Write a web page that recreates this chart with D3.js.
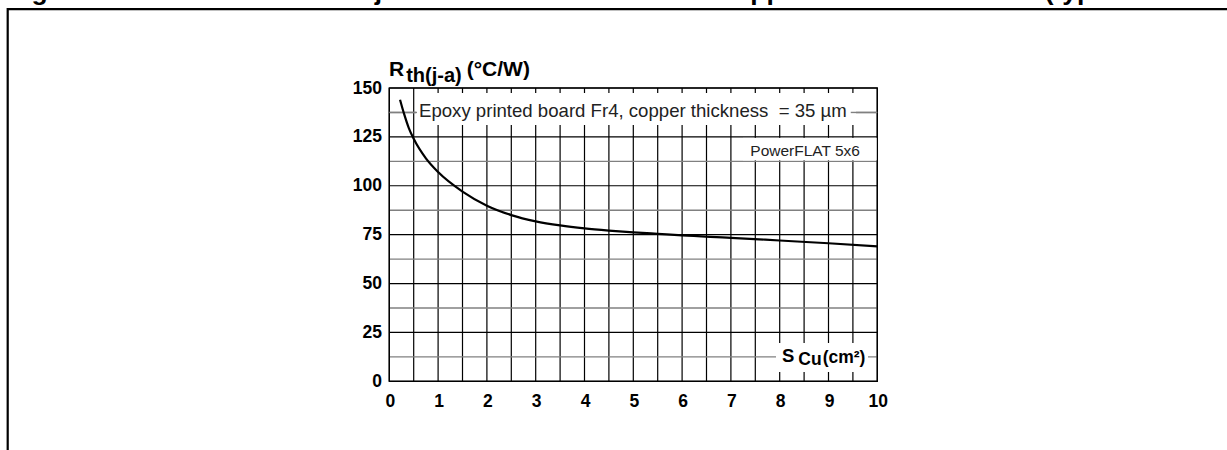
<!DOCTYPE html>
<html>
<head>
<meta charset="utf-8">
<script src="https://cdn.jsdelivr.net/npm/d3@7"></script>
<style>
  body { margin: 0; background: #fff; }
  svg { display: block; font-family: Arial, "Liberation Sans", sans-serif; }
</style>
</head>
<body>
<div id="myChart"></div>
<script>
// copper area (cm²) and thermal resistance (°C/W)
var sCu = [0.22, 0.3, 0.4, 0.5, 0.75, 1, 1.5, 2, 2.5, 3, 3.5, 4, 4.5, 5, 5.5, 6, 7, 8, 9, 10];
var rth = [144, 137, 129.5, 124, 114, 107, 97, 89.8, 85, 81.8, 79.7, 78.2, 77.1, 76.2, 75.4, 74.6, 73.4, 72, 70.6, 69];

var xTicks = [0, 1, 2, 3, 4, 5, 6, 7, 8, 9, 10];
var yTicks = [0, 25, 50, 75, 100, 125, 150];

var titleText = 'Figure 7. Thermal resistance junction to ambient versus copper surface under tab (typical values)';
var boardNote = 'Epoxy printed board Fr4, copper thickness\u00a0\u00a0= 35 \u00b5m';
var packageNote = 'PowerFLAT 5x6';

function plotChart() {
	var width = 1227, height = 450;
	var svg = d3.select('#myChart')
		.append('svg')
		.attr('width', width)
		.attr('height', height);

	// figure title, cut off by the top of the picture like in the datasheet crop
	svg.append('text')
		.attr('x', 8)
		.attr('y', -0.5)
		.attr('font-size', 26.5)
		.attr('font-weight', 'bold')
		.text(titleText);

	svg.append('path')
		.attr('d', 'M7.7,' + height + 'V9.2H' + width)
		.attr('fill', 'none')
		.attr('stroke', '#000')
		.attr('stroke-width', 2.2);

	var x = d3.scaleLinear().domain([0, 10]).range([389.3, 877.3]);
	var y = d3.scaleLinear().domain([0, 150]).range([381.3, 88]);

	var g = svg.append('g');

	// vertical grid every 0.5
	var xGrid = d3.range(0, 10.01, 0.5);
	g.selectAll('.vgrid')
		.data(xGrid)
		.enter().append('line')
		.attr('class', 'vgrid')
		.attr('x1', function(d) { return x(d); })
		.attr('x2', function(d) { return x(d); })
		.attr('y1', y(0))
		.attr('y2', y(150))
		.attr('stroke', '#000')
		.attr('stroke-width', 1.2);

	// horizontal grid: black on the 25s, grey in between
	var yGrid = d3.range(0, 150.01, 12.5);
	g.selectAll('.hgrid')
		.data(yGrid)
		.enter().append('line')
		.attr('class', 'hgrid')
		.attr('x1', x(0))
		.attr('x2', x(10))
		.attr('y1', function(d) { return y(d); })
		.attr('y2', function(d) { return y(d); })
		.attr('stroke', function(d) { return d % 25 === 0 ? '#000' : '#808080'; })
		.attr('stroke-width', function(d) { return d % 25 === 0 ? 1.2 : 1.4; });

	// frame
	g.append('rect')
		.attr('x', x(0))
		.attr('y', y(150))
		.attr('width', x(10) - x(0))
		.attr('height', y(0) - y(150))
		.attr('fill', 'none')
		.attr('stroke', '#000')
		.attr('stroke-width', 1.4);

	// white boxes behind the notes
	g.append('rect')
		.attr('x', 416).attr('y', 93)
		.attr('width', 440).attr('height', 32)
		.attr('fill', '#fff');
	var note = g.append('text')
		.attr('x', 419)
		.attr('y', 117)
		.attr('font-size', 18.6)
		.attr('fill', '#222')
		.text(boardNote);
	var noteEnd = 419 + note.node().getComputedTextLength();
	g.append('line')
		.attr('x1', x(0)).attr('x2', 417)
		.attr('y1', y(137.5)).attr('y2', y(137.5))
		.attr('stroke', '#808080').attr('stroke-width', 1.4);
	g.append('line')
		.attr('x1', noteEnd + 4).attr('x2', x(10))
		.attr('y1', y(137.5)).attr('y2', y(137.5))
		.attr('stroke', '#808080').attr('stroke-width', 1.4);

	g.append('rect')
		.attr('x', 743).attr('y', y(125) + 1)
		.attr('width', x(10) - 743 - 0.7).attr('height', y(112.5) - y(125) - 2)
		.attr('fill', '#fff');
	g.append('text')
		.attr('x', 860)
		.attr('y', 156)
		.attr('text-anchor', 'end')
		.attr('font-size', 15.5)
		.attr('fill', '#222')
		.text(packageNote);

	g.append('rect')
		.attr('x', 776).attr('y', 343)
		.attr('width', 92).attr('height', 29)
		.attr('fill', '#fff');
	var xTitle = g.append('text')
		.attr('x', 782)
		.attr('y', 362)
		.attr('font-size', 17.5)
		.attr('font-weight', 'bold');
	xTitle.append('tspan').attr('font-size', 18.5).text('S');
	xTitle.append('tspan').attr('dx', 4).attr('dy', 3).text('Cu');
	xTitle.append('tspan').attr('dx', 1).attr('dy', -2).text('(cm\u00b2)');

	// curve
	var line = d3.line()
		.x(function(d, i) { return x(sCu[i]); })
		.y(function(d) { return y(d); })
		.curve(d3.curveMonotoneX);
	g.append('path')
		.datum(rth)
		.attr('d', line)
		.attr('fill', 'none')
		.attr('stroke', '#000')
		.attr('stroke-width', 2.2);

	// tick labels
	g.selectAll('.ylab')
		.data(yTicks)
		.enter().append('text')
		.attr('class', 'ylab')
		.attr('x', 382)
		.attr('y', function(d) { return y(d) + 5.5; })
		.attr('text-anchor', 'end')
		.attr('font-size', 17.5)
		.attr('font-weight', 'bold')
		.text(function(d) { return d; });

	g.selectAll('.xlab')
		.data(xTicks)
		.enter().append('text')
		.attr('class', 'xlab')
		.attr('x', function(d) { return x(d) + 1; })
		.attr('y', 407)
		.attr('text-anchor', 'middle')
		.attr('font-size', 17.5)
		.attr('font-weight', 'bold')
		.text(function(d) { return d; });

	// y axis title
	var yTitle = g.append('text')
		.attr('x', 389)
		.attr('y', 76)
		.attr('font-size', 21)
		.attr('font-weight', 'bold');
	yTitle.append('tspan').text('R');
	yTitle.append('tspan').attr('dx', 2).attr('dy', 6).attr('font-size', 20).text('th(j-a)');
	yTitle.append('tspan').attr('dx', 5).attr('dy', -6).attr('font-size', 21).text('(\u00b0C/W)');
}

function init() {
	plotChart();
}

document.addEventListener('DOMContentLoaded', init, false);
</script>
</body>
</html>
